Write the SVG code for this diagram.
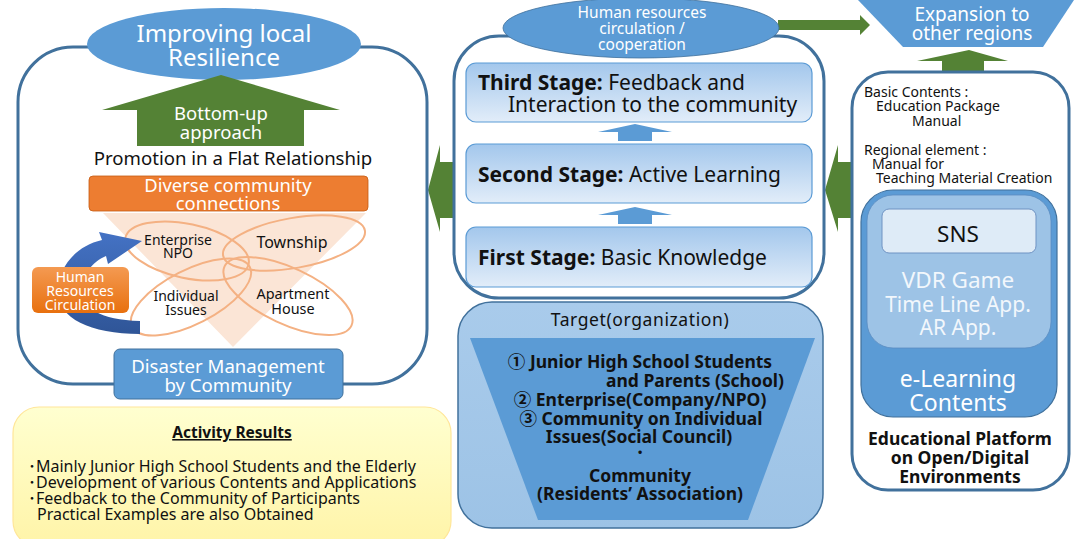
<svg xmlns="http://www.w3.org/2000/svg" width="1074" height="539" viewBox="0 0 1074 539">
<defs>
<style>
text{font-family:"Noto Sans","Noto Sans CJK JP",sans-serif;}
.panel{fill:#fff;stroke:#41719C;stroke-width:3;}
.w{fill:#fff;}
.k{fill:#111;}
.c{text-anchor:middle;}
.b{font-weight:bold;}
.stage{fill:url(#gStage);stroke:#5B9BD5;stroke-width:1.2;}
.green{fill:#548235;}
.blue{fill:#5B9BD5;}
.ell{fill:none;stroke:#F4B183;stroke-width:2;}
</style>
<linearGradient id="gStage" x1="0" y1="0" x2="0" y2="1">
<stop offset="0" stop-color="#A3C7EC"/><stop offset="1" stop-color="#E2EDF9"/>
</linearGradient>
<linearGradient id="gYellow" x1="0" y1="0" x2="0" y2="1">
<stop offset="0" stop-color="#FFFFD0"/><stop offset="1" stop-color="#FFF4A8"/>
</linearGradient>
<linearGradient id="gOrange" x1="0" y1="0" x2="0" y2="1">
<stop offset="0" stop-color="#F49A52"/><stop offset="1" stop-color="#E8700E"/>
</linearGradient>
<linearGradient id="gCurve" x1="0" y1="0" x2="0" y2="1">
<stop offset="0" stop-color="#4472C4"/><stop offset="1" stop-color="#2F5597"/>
</linearGradient>
<linearGradient id="gTarget" x1="0" y1="0" x2="0" y2="1">
<stop offset="0" stop-color="#A9CBEB"/><stop offset="1" stop-color="#9DC3E6"/>
</linearGradient>
</defs>

<!-- connectors (big arrows between panels) -->
<g id="connectors">
<path class="green" d="M428,190 L440,145 L440,162 L456,162 L456,218 L440,218 L440,232 Z"/>
<path class="green" d="M825,190 L838,145 L838,162 L853,162 L853,218 L838,218 L838,232 Z"/>
<path class="green" d="M778,20 L860,20 L860,15 L870,25 L860,35 L860,30 L778,30 Z"/>
<path class="green" d="M969,50 L1008,61 L984,61 L984,74 L942,74 L942,61 L917,61 Z"/>
</g>

<!-- Left panel -->
<g id="left-panel">
<rect class="panel" x="18" y="47" width="409" height="337" rx="55"/>
</g>
<g id="resilience">
<ellipse class="blue" cx="224" cy="44" rx="137" ry="36"/>
<text class="w c" x="224" y="42" font-size="24">Improving local</text>
<text class="w c" x="224" y="66" font-size="24">Resilience</text>
</g>
<g id="bottom-up">
<path class="green" d="M221,75 L340,110 L304,110 L304,146 L137,146 L137,110 L102,110 Z"/>
<text class="w c" x="221" y="120" font-size="18.5">Bottom-up</text>
<text class="w c" x="221" y="139" font-size="18.5">approach</text>
</g>
<g id="promotion">
<text class="k c" x="233" y="165" font-size="18.6">Promotion in a Flat Relationship</text>
</g>
<g id="connections">
<polygon points="103,213 366,213 233,347" fill="#FBE5D6"/>
<rect x="89" y="176" width="279" height="35" rx="4" fill="#ED7D31" stroke="#C55A11" stroke-width="0.8"/>
<text class="w c" x="228" y="192" font-size="18.4">Diverse community</text>
<text class="w c" x="228" y="210" font-size="18.4">connections</text>
</g>
<g id="circles">
<ellipse class="ell" cx="187" cy="251" rx="63" ry="27" transform="rotate(12 187 251)"/>
<ellipse class="ell" cx="294" cy="243" rx="72" ry="25" transform="rotate(-10 294 243)"/>
<ellipse class="ell" cx="191" cy="297" rx="66" ry="27" transform="rotate(-27 191 297)"/>
<ellipse class="ell" cx="288" cy="296" rx="70" ry="28" transform="rotate(25 288 296)"/>
<text class="k c" x="178" y="245" font-size="14">Enterprise</text>
<text class="k c" x="178" y="258" font-size="14">NPO</text>
<text class="k c" x="292" y="248" font-size="16">Township</text>
<text class="k c" x="186" y="301" font-size="14">Individual</text>
<text class="k c" x="186" y="315" font-size="14">Issues</text>
<text class="k c" x="293" y="299" font-size="14.4">Apartment</text>
<text class="k c" x="293" y="314" font-size="14.4">House</text>
</g>
<g id="circulation">
<path fill="url(#gCurve)" d="M142,241 L108,264 L106,256 C92,262 82,275 82,290 C82,308 100,320 140,321 L140,334 C90,334 58,318 58,292 C58,268 75,246 102,240 L99,232 Z"/>
<rect x="32" y="267" width="97" height="46" rx="6" fill="url(#gOrange)"/>
<text class="w c" x="80" y="282" font-size="14">Human</text>
<text class="w c" x="80" y="296" font-size="14">Resources</text>
<text class="w c" x="80" y="310" font-size="14">Circulation</text>
</g>
<g id="disaster">
<rect x="114" y="349" width="229" height="50" rx="6" fill="#5B9BD5" stroke="#41719C" stroke-width="1"/>
<text class="w c" x="228" y="373" font-size="18.6">Disaster Management</text>
<text class="w c" x="228" y="392" font-size="18.6">by Community</text>
</g>

<!-- Activity results -->
<g id="activity">
<rect x="13" y="407" width="438" height="140" rx="26" fill="url(#gYellow)" stroke="#FFE699" stroke-width="1.2"/>
<text class="k c b" x="232" y="438" font-size="15.5" text-decoration="underline">Activity Results</text>
<text class="k" x="28" y="472" font-size="16">･Mainly Junior High School Students and the Elderly</text>
<text class="k" x="28" y="488" font-size="16">･Development of various Contents and Applications</text>
<text class="k" x="28" y="504" font-size="16">･Feedback to the Community of Participants</text>
<text class="k" x="37" y="520" font-size="16">Practical Examples are also Obtained</text>
</g>

<!-- Middle panel -->
<g id="middle-panel">
<rect class="panel" x="454" y="36" width="370" height="262" rx="45"/>
</g>
<g id="hr-cooperation">
<ellipse class="blue" cx="641" cy="28" rx="138" ry="30" stroke="#41719C" stroke-width="0.8"/>
<text class="w c" x="642" y="18" font-size="15.5">Human resources</text>
<text class="w c" x="642" y="34" font-size="15.5">circulation /</text>
<text class="w c" x="642" y="50" font-size="15.5">cooperation</text>
</g>
<g id="third-stage">
<rect class="stage" x="466" y="63" width="346" height="59" rx="10"/>
<text class="k" x="478" y="90" font-size="21"><tspan class="b">Third Stage:</tspan> Feedback and</text>
<text class="k" x="508" y="112" font-size="21">Interaction to the community</text>
</g>
<g id="arrow-2-3">
<path class="blue" d="M635,124 L672,132 L652,132 L652,141 L618,141 L618,132 L598,132 Z"/>
</g>
<g id="second-stage">
<rect class="stage" x="466" y="144" width="346" height="59" rx="10"/>
<text class="k" x="478" y="182" font-size="21"><tspan class="b">Second Stage:</tspan> Active Learning</text>
</g>
<g id="arrow-1-2">
<path class="blue" d="M635,207 L672,215 L652,215 L652,224 L618,224 L618,215 L598,215 Z"/>
</g>
<g id="first-stage">
<rect class="stage" x="466" y="227" width="346" height="60" rx="10"/>
<text class="k" x="478" y="265" font-size="21"><tspan class="b">First Stage:</tspan> Basic Knowledge</text>
</g>

<!-- Target -->
<g id="target">
<rect x="458" y="302" width="365" height="226" rx="34" fill="url(#gTarget)" stroke="#41719C" stroke-width="1.5"/>
<text class="k c" x="640" y="326" font-size="17.5" letter-spacing="0.6">Target(organization)</text>
<polygon points="470,338 815,338 748,520 538,520" fill="#5B9BD5"/>
<text class="k c b" x="640" y="368" font-size="17.5">① Junior High School Students</text>
<text class="k c b" x="695" y="387" font-size="17.5">and Parents (School)</text>
<text class="k c b" x="640" y="406" font-size="17.5">② Enterprise(Company/NPO)</text>
<text class="k c b" x="641" y="425" font-size="17.5">③ Community on Individual</text>
<text class="k c b" x="639" y="443" font-size="17.5">Issues(Social Council)</text>
<text class="k c b" x="640" y="459" font-size="17.5">･</text>
<text class="k c b" x="640" y="482" font-size="17.5">Community</text>
<text class="k c b" x="640" y="500" font-size="17.5">(Residents’ Association)</text>
</g>

<!-- Expansion -->
<g id="expansion">
<polygon points="858,0 1074,0 1043,47 903,47" fill="#5B9BD5"/>
<text class="w c" x="972" y="21" font-size="19">Expansion to</text>
<text class="w c" x="972" y="40" font-size="19">other regions</text>
</g>

<!-- Right panel -->
<g id="right-panel">
<rect class="panel" x="852" y="72" width="217" height="418" rx="36"/>
<text class="k" x="864" y="97" font-size="14">Basic Contents :</text>
<text class="k" x="876" y="111" font-size="14">Education Package</text>
<text class="k" x="912" y="126" font-size="14">Manual</text>
<text class="k" x="864" y="155" font-size="14">Regional element :</text>
<text class="k" x="872" y="169" font-size="14">Manual for</text>
<text class="k" x="876" y="183" font-size="14">Teaching Material Creation</text>
<text class="k c b" x="960" y="445" font-size="17.5">Educational Platform</text>
<text class="k c b" x="960" y="464" font-size="17.5">on Open/Digital</text>
<text class="k c b" x="960" y="483" font-size="17.5">Environments</text>
</g>
<g id="elearning">
<rect x="861" y="190" width="196" height="227" rx="32" fill="#5B9BD5" stroke="#41719C" stroke-width="1.2"/>
<rect x="867" y="195" width="184" height="153" rx="26" fill="#9DC3E6" stroke="#5B8CC0" stroke-width="0.8"/>
<text class="w c" x="958" y="387" font-size="23">e-Learning</text>
<text class="w c" x="958" y="411" font-size="23">Contents</text>
<text class="c" x="958" y="288" font-size="22.5" fill="#F2F7FC">VDR Game</text>
<text class="c" x="958" y="312" font-size="21" fill="#F2F7FC">Time Line App.</text>
<text class="c" x="958" y="335" font-size="21" fill="#F2F7FC">AR App.</text>
</g>
<g id="sns">
<rect x="882" y="209" width="154" height="44" rx="7" fill="#DEEBF7" stroke="#6F93C3" stroke-width="1"/>
<text class="k c" x="958" y="242" font-size="22.5">SNS</text>
</g>
</svg>
